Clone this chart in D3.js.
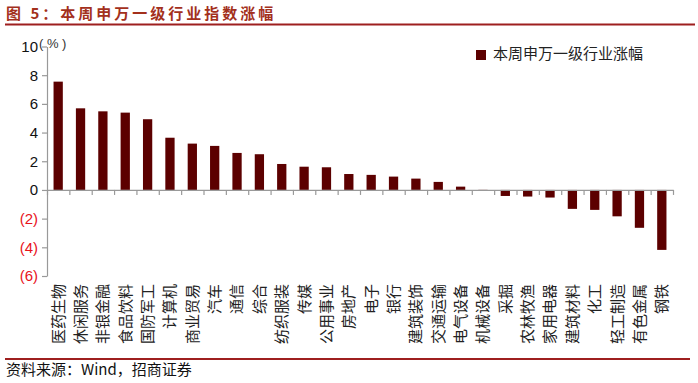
<!DOCTYPE html>
<html><head><meta charset="utf-8">
<script src="https://cdn.jsdelivr.net/npm/d3@7"></script>
<style>body{margin:0;background:#fff}</style></head>
<body>
<svg id="c" width="698" height="383"></svg>
<script>
const categories = ["医药生物","休闲服务","非银金融","食品饮料","国防军工","计算机","商业贸易","汽车","通信","综合","纺织服装","传媒","公用事业","房地产","电子","银行","建筑装饰","交通运输","电气设备","机械设备","采掘","农林牧渔","家用电器","建筑材料","化工","轻工制造","有色金属","钢铁"];
const values = [7.55,5.69,5.48,5.39,4.93,3.64,3.23,3.07,2.58,2.49,1.81,1.62,1.58,1.11,1.05,0.93,0.79,0.56,0.23,0.01,-0.42,-0.46,-0.53,-1.32,-1.39,-1.84,-2.64,-4.18];
const yTicks = [-6,-4,-2,0,2,4,6,8,10];
const seriesName = "本周申万一级行业涨幅";
const titleText = "图 5：本周申万一级行业指数涨幅";
const sourceText = "资料来源：Wind，招商证券";
const unitText = "( % )";

const svg = d3.select("#c");
const barColor = "#5c0000";
const redLine = "#9e1f1f";
const cjk = "'Noto Sans CJK SC', sans-serif";
const latin = "'Liberation Sans', Arial, sans-serif";

// title
svg.append("text").attr("x", 6).attr("y", 19)
  .attr("font-family", cjk).attr("font-weight", "bold").attr("font-size", 15)
  .attr("letter-spacing", 3).attr("fill", "#a3301c").text(titleText);
svg.append("line").attr("x1", 5).attr("x2", 695).attr("y1", 24.5).attr("y2", 24.5)
  .attr("stroke", redLine).attr("stroke-width", 2);
// bottom
svg.append("line").attr("x1", 5).attr("x2", 690).attr("y1", 359).attr("y2", 359)
  .attr("stroke", redLine).attr("stroke-width", 2);
svg.append("text").attr("x", 6).attr("y", 371).attr("dominant-baseline", "middle")
  .attr("font-family", cjk).attr("font-size", 15).attr("fill", "#111").text(sourceText);

const left = 47, right = 673;
const n = categories.length;
const pad = 0.585;
const x = d3.scaleBand().domain(categories).range([left, right]).paddingInner(pad).paddingOuter(pad / 2);
const y = d3.scaleLinear().domain([-6, 10]).range([276, 46.5]);
const xb = d3.scaleLinear().domain([0, n]).range([left, right]);

// bars
svg.append("g").selectAll("rect").data(values).join("rect")
  .attr("x", (d, i) => x(categories[i]))
  .attr("width", x.bandwidth())
  .attr("y", d => y(Math.max(0, d)))
  .attr("height", d => Math.abs(y(d) - y(0)))
  .attr("fill", barColor);

// x axis (zero line with boundary ticks)
const gx = svg.append("g").attr("transform", `translate(0,${y(0)})`)
  .call(d3.axisBottom(xb).tickValues(d3.range(n + 1)).tickSize(5).tickSizeOuter(0).tickFormat(""));
gx.selectAll("path,line").attr("stroke", "#999").attr("stroke-width", 1.2);

// y axis
const gy = svg.append("g").attr("transform", `translate(${left},0)`)
  .call(d3.axisLeft(y).tickValues(yTicks).tickSize(5).tickSizeOuter(0).tickPadding(4)
    .tickFormat(d => d < 0 ? `(${-d})` : d));
gy.selectAll("path,line").attr("stroke", "#999").attr("stroke-width", 1.2);
gy.selectAll("text").attr("font-family", latin).attr("font-size", 15)
  .attr("fill", d => d < 0 ? "#e8121a" : "#111");

svg.append("text").attr("x", 39).attr("y", 48).attr("font-family", latin)
  .attr("font-size", 13).attr("fill", "#333").text(unitText);

// category labels
svg.append("g").selectAll("text").data(categories).join("text")
  .attr("transform", d => `translate(${x(d) + x.bandwidth() / 2},284) rotate(-90)`)
  .attr("text-anchor", "end").attr("dy", "0.36em")
  .attr("font-family", cjk).attr("font-size", 15).attr("fill", "#222")
  .text(d => d);

// legend
svg.append("rect").attr("x", 476).attr("y", 50).attr("width", 10).attr("height", 10).attr("fill", barColor);
svg.append("text").attr("x", 493).attr("y", 55).attr("dominant-baseline", "middle")
  .attr("font-family", cjk).attr("font-size", 15).attr("fill", "#222").text(seriesName);
</script>
</body></html>
